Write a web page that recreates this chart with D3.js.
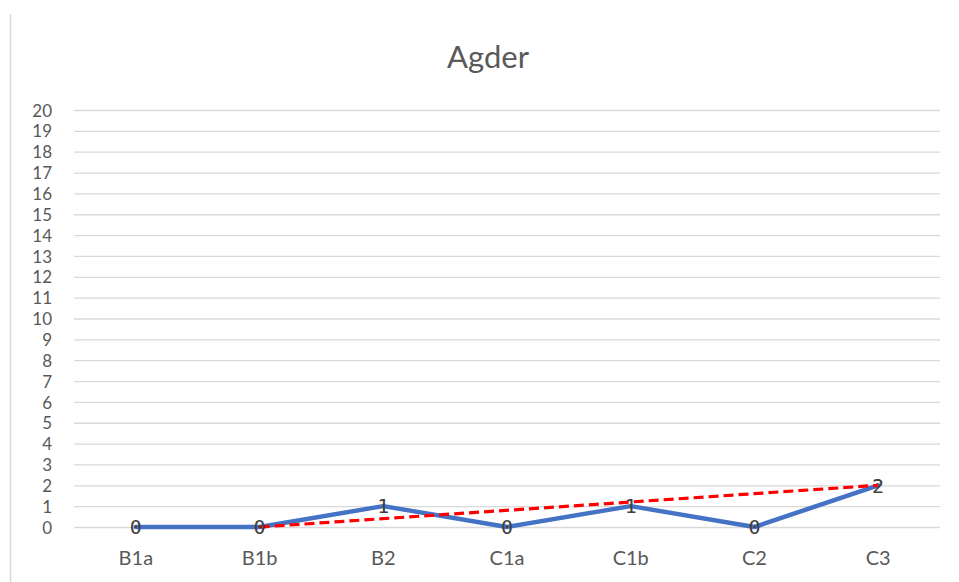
<!DOCTYPE html>
<html><head><meta charset="utf-8">
<script src="https://cdn.jsdelivr.net/npm/d3@7"></script>
<style>body{margin:0;background:#fff}svg{display:block}</style>
</head><body>
<svg id="c" width="959" height="582"></svg>
<script>
const title = "Agder";
const categories = ["B1a","B1b","B2","C1a","C1b","C2","C3"];
const values = [0,0,1,0,1,0,2];
const trendStart = {cat:"B1b", value:0};
const trendEnd = {cat:"C3", value:2};
const yTicks = d3.range(0,21);

const svg = d3.select("#c");
const W=959,H=582;
const m={left:74,right:19,top:110,bottom:55};
const x=d3.scaleBand().domain(categories).range([m.left,W-m.right]);
const y=d3.scaleLinear().domain([0,20]).range([H-m.bottom,m.top]);
const cx=d=>x(d)+x.bandwidth()/2;
const grey="#595959";
const font="Lato, 'Open Sans', sans-serif";

svg.append("line").attr("x1",10.5).attr("x2",10.5).attr("y1",14).attr("y2",H).attr("stroke","#d9d9d9").attr("stroke-width",1.5);

svg.append("text").attr("x",488).attr("y",68).attr("text-anchor","middle")
  .attr("font-family",font).attr("font-size",31).attr("fill",grey).text(title);

const ya=svg.append("g").attr("transform",`translate(${m.left},0)`)
  .call(d3.axisLeft(y).tickValues(yTicks).tickSize(-(W-m.left-m.right)).tickPadding(22).tickFormat(d3.format("d")));
ya.select(".domain").remove();
ya.selectAll(".tick line").attr("stroke","#d9d9d9").attr("stroke-width",1.3);
ya.selectAll(".tick text").attr("font-family",font).attr("font-size",17).attr("fill",grey).attr("dy","0.36em");

const xa=svg.append("g").attr("transform",`translate(0,${H-m.bottom})`)
  .call(d3.axisBottom(x).tickSize(0).tickPadding(0));
xa.select(".domain").remove();
xa.selectAll(".tick text").attr("font-family",font).attr("font-size",20).attr("fill",grey).attr("dy",null).attr("y",38);

const line=d3.line().x((d,i)=>cx(categories[i])).y(d=>y(d));
svg.append("path").datum(values).attr("d",line).attr("fill","none")
  .attr("stroke","#4472C4").attr("stroke-width",4.5).attr("stroke-linejoin","round").attr("stroke-linecap","round");

svg.append("line").attr("x1",cx(trendStart.cat)).attr("y1",y(trendStart.value))
  .attr("x2",cx(trendEnd.cat)).attr("y2",y(trendEnd.value))
  .attr("stroke","#FF0000").attr("stroke-width",3.2).attr("stroke-dasharray","10,5");

svg.selectAll(".lbl").data(values).join("text")
  .attr("x",(d,i)=>cx(categories[i])).attr("y",d=>y(d)).attr("dy","0.36em")
  .attr("text-anchor","middle").attr("font-family","'DejaVu Sans Mono', monospace").attr("font-size",20)
  .attr("fill","#404040").text(d=>d);
</script>
</body></html>
